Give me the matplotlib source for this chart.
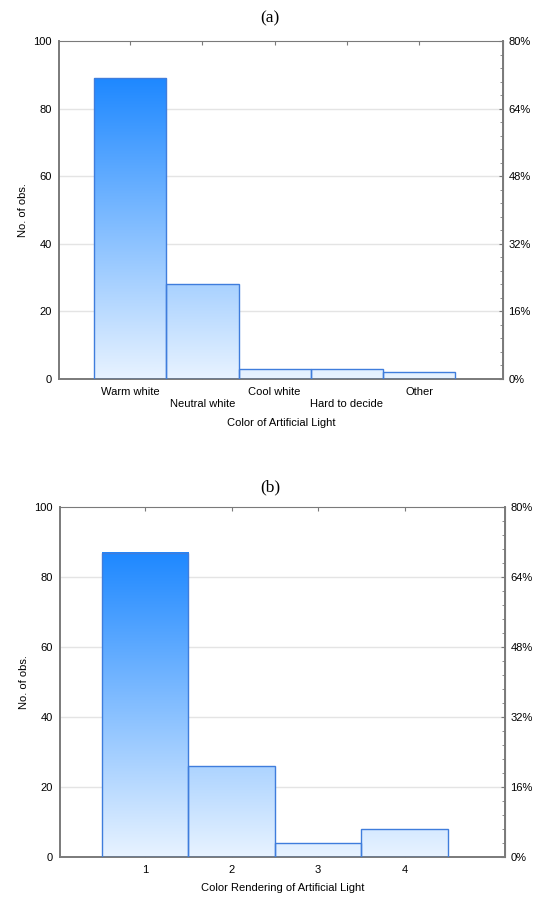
import numpy as np
import matplotlib.pyplot as plt
from matplotlib.colors import LinearSegmentedColormap
from matplotlib.ticker import MultipleLocator, FuncFormatter

plt.rcParams['font.family'] = ['Liberation Sans', 'DejaVu Sans']

colors_a = ['Warm white', 'Neutral white', 'Cool white', 'Hard to decide', 'Other']
counts_a = [89, 28, 3, 3, 2]

levels_b = ['1', '2', '3', '4']
counts_b = [87, 26, 4, 8]

grad = LinearSegmentedColormap.from_list('grad', ['#e8f3ff', '#1e88ff'])
edge = '#3f7ddc'
spine_c = '#7a7a7a'
fs = 8


def hist_panel(ax, labels, counts, pos0, xlabel, stagger, xlab_y):
    n = len(counts)
    x = np.arange(n) + pos0
    ax.set_xlim(pos0 - 0.985, pos0 + n - 1 + 1.16)
    ax.set_ylim(0, 100)
    total = sum(counts)
    top = max(counts)
    bars = ax.bar(x, counts, width=1.0, facecolor='none', edgecolor=edge,
                  linewidth=1.0, zorder=3)
    g = np.linspace(1, 0, 256).reshape(-1, 1)
    x0, x1 = ax.get_xlim()
    for b in bars:
        im = ax.imshow(g, cmap=grad, aspect='auto', extent=[x0, x1, 0, top],
                       zorder=2, interpolation='bicubic')
        im.set_clip_path(b)
    ax.set_xlim(x0, x1)
    ax.set_ylim(0, 100)

    ax.yaxis.set_major_locator(MultipleLocator(20))
    for v in range(20, 100, 20):
        ax.axhline(v, color='#e4e4e4', linewidth=1.0, zorder=1)
    ax.set_xticks(x)
    if stagger:
        ax.set_xticklabels([lab if i % 2 == 0 else '\n' + lab
                            for i, lab in enumerate(labels)], fontsize=fs)
    else:
        ax.set_xticklabels(labels, fontsize=fs)
    ax.tick_params(axis='x', direction='in', length=3, color=spine_c,
                   top=True, pad=6)
    ax.tick_params(axis='y', length=0, labelsize=fs, pad=5)
    ax.set_xlabel(xlabel, fontsize=fs)
    ax.xaxis.set_label_coords(0.5, xlab_y)
    ax.set_ylabel('No. of obs.', fontsize=fs)
    ax.yaxis.set_label_coords(-0.07, 0.5)
    for s in ax.spines.values():
        s.set_color(spine_c)
    ax.spines['left'].set_linewidth(1.4)
    ax.spines['bottom'].set_linewidth(1.4)
    ax.spines['top'].set_linewidth(0.8)

    ax2 = ax.twinx()
    ax2.set_ylim(0, 100 / total * 100)
    ax2.yaxis.set_major_locator(MultipleLocator(16))
    ax2.yaxis.set_minor_locator(MultipleLocator(3.2))
    ax2.yaxis.set_major_formatter(FuncFormatter(lambda v, p: '%d%%' % round(v)))
    ax2.tick_params(axis='y', which='major', direction='in', length=3,
                    color=spine_c, labelsize=fs, pad=4)
    ax2.tick_params(axis='y', which='minor', direction='in', length=2,
                    color=spine_c)
    for s in ax2.spines.values():
        s.set_visible(False)
    ax2.spines['right'].set_visible(True)
    ax2.spines['right'].set_color(spine_c)
    ax2.spines['right'].set_linewidth(1.4)


fig = plt.figure(figsize=(5.37, 8.97), dpi=100)
axa = fig.add_axes([59 / 537, 1 - 379 / 897, 444 / 537, 338 / 897])
axb = fig.add_axes([60 / 537, 1 - 857 / 897, 445 / 537, 350 / 897])

hist_panel(axa, colors_a, counts_a, 0, 'Color of Artificial Light', True, -0.115)
hist_panel(axb, levels_b, counts_b, 1, 'Color Rendering of Artificial Light',
           False, -0.075)

fig.text(270 / 537, 1 - 18 / 897, '(a)', ha='center', va='center',
         fontsize=12.5, family='Liberation Serif')
fig.text(270 / 537, 1 - 487 / 897, '(b)', ha='center', va='center',
         fontsize=12.5, family='Liberation Serif')

fig.savefig('out.png', dpi=100)
